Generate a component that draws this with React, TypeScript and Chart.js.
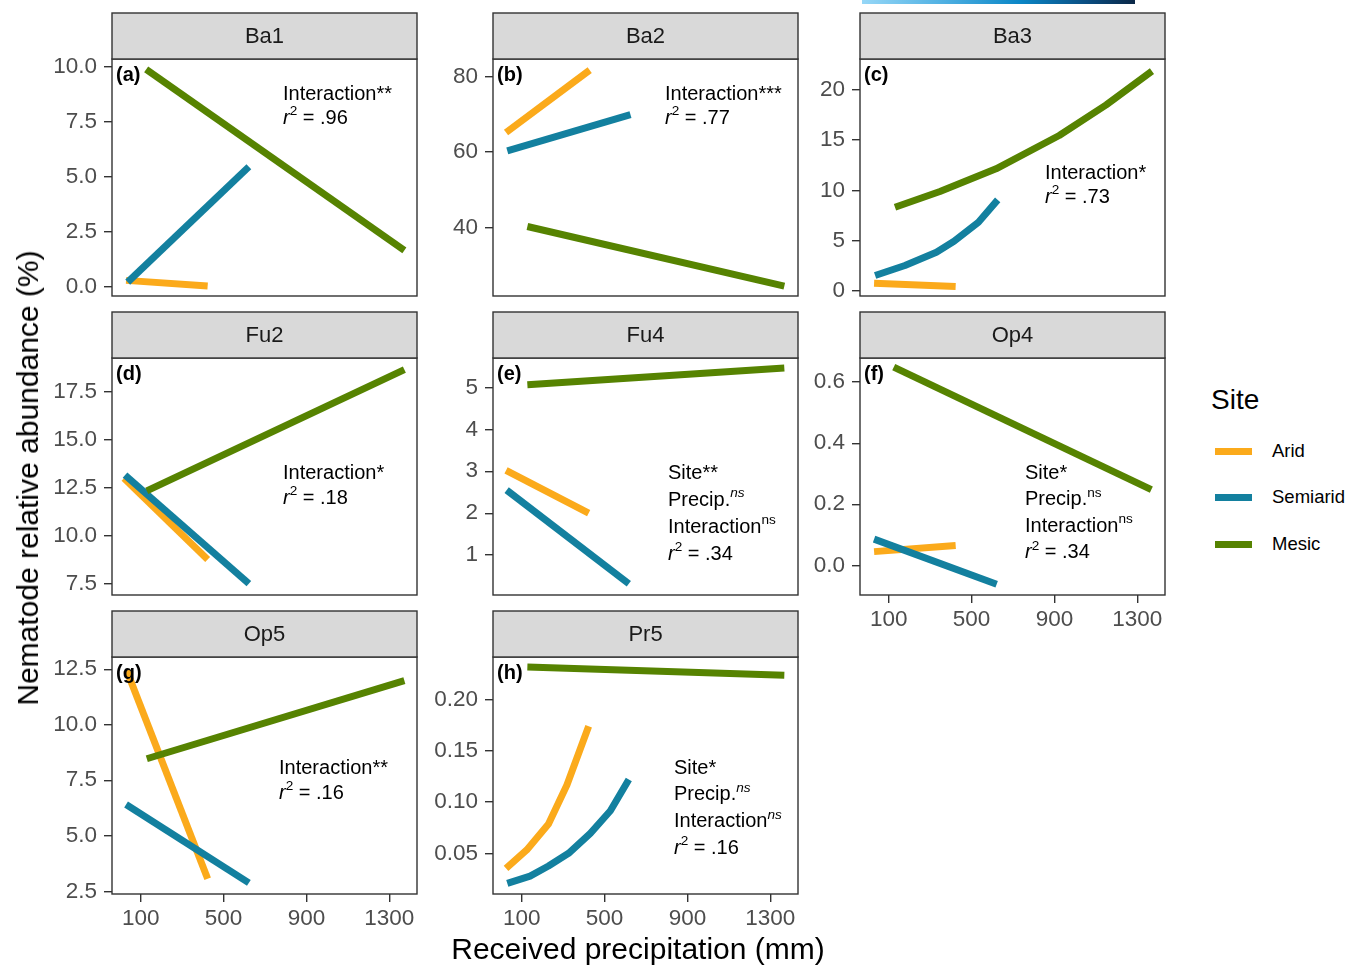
import React, { useEffect, useRef } from "react";
import { Chart, registerables } from "chart.js";
Chart.register(...registerables);

const FONT = "'Liberation Sans', Arial, Helvetica, sans-serif";

const siteNames = ["Arid", "Semiarid", "Mesic"];
const siteColors = ["#FBAA1B", "#13809F", "#568301"];

const panelNames = ["Ba1", "Ba2", "Ba3", "Fu2", "Fu4", "Op4", "Op5", "Pr5"];
const panelTags = ["(a)", "(b)", "(c)", "(d)", "(e)", "(f)", "(g)", "(h)"];

const xTicks = [100, 500, 900, 1300];
const xLimits = [-39, 1434];

// ---- series: [precipitation (mm), relative abundance (%)] ----
const ba1Arid = [[29, 0.31], [423, 0.05]];
const ba1Semiarid = [[37, 0.23], [622, 5.47]];
const ba1Mesic = [[126, 9.9], [1373, 1.67]];

const ba2Arid = [[24, 65.2], [428, 81.7]];
const ba2Semiarid = [[30, 60.3], [625, 69.9]];
const ba2Mesic = [[127, 40.3], [1368, 24.5]];

const ba3Arid = [[29, 0.79], [423, 0.46]];
const ba3Semiarid = [[34, 1.56], [178, 2.55], [330, 3.87], [415, 4.95], [533, 6.85], [626, 9.07]];
const ba3Mesic = [[130, 8.34], [347, 9.9], [618, 12.15], [923, 15.46], [1150, 18.5], [1371, 21.85]];

const fu2Arid = [[19, 13.0], [423, 8.76]];
const fu2Semiarid = [[24, 13.16], [622, 7.5]];
const fu2Mesic = [[129, 12.34], [1373, 18.67]];

const fu4Arid = [[24, 3.02], [423, 2.0]];
const fu4Semiarid = [[27, 2.55], [617, 0.32]];
const fu4Mesic = [[127, 5.06], [1368, 5.46]];

const op4Arid = [[29, 0.045], [423, 0.065]];
const op4Semiarid = [[29, 0.086], [621, -0.062]];
const op4Mesic = [[124, 0.649], [1368, 0.248]];

const op5Arid = [[32, 12.44], [423, 3.07]];
const op5Semiarid = [[29, 6.41], [622, 2.88]];
const op5Mesic = [[129, 8.47], [1373, 11.99]];

const pr5Arid = [[24, 0.0354], [124, 0.0533], [229, 0.0786], [318, 0.1167], [423, 0.174]];
const pr5Semiarid = [[30, 0.0207], [140, 0.0278], [229, 0.0376], [326, 0.05], [431, 0.0695], [528, 0.0915], [617, 0.122]];
const pr5Mesic = [[127, 0.2318], [1368, 0.2237]];

// ---- y axes ----
const ba1Ticks = [0, 2.5, 5, 7.5, 10];
const ba1Labels = ["0.0", "2.5", "5.0", "7.5", "10.0"];
const ba1Limits = [-0.4, 10.37];
const ba2Ticks = [40, 60, 80];
const ba2Labels = ["40", "60", "80"];
const ba2Limits = [21.9, 84.65];
const ba3Ticks = [0, 5, 10, 15, 20];
const ba3Labels = ["0", "5", "10", "15", "20"];
const ba3Limits = [-0.48, 23.06];
const fu2Ticks = [7.5, 10, 12.5, 15, 17.5];
const fu2Labels = ["7.5", "10.0", "12.5", "15.0", "17.5"];
const fu2Limits = [6.9, 19.28];
const fu4Ticks = [1, 2, 3, 4, 5];
const fu4Labels = ["1", "2", "3", "4", "5"];
const fu4Limits = [0.05, 5.7];
const op4Ticks = [0, 0.2, 0.4, 0.6];
const op4Labels = ["0.0", "0.2", "0.4", "0.6"];
const op4Limits = [-0.097, 0.679];
const op5Ticks = [2.5, 5, 7.5, 10, 12.5];
const op5Labels = ["2.5", "5.0", "7.5", "10.0", "12.5"];
const op5Limits = [2.38, 13.05];
const pr5Ticks = [0.05, 0.1, 0.15, 0.2];
const pr5Labels = ["0.05", "0.10", "0.15", "0.20"];
const pr5Limits = [0.0103, 0.2415];

// ---- statistics text ----
type Seg = { t: string; it?: boolean; sup?: boolean };
const r2 = (v: string): Seg[] => [{ t: "r", it: true }, { t: "2", sup: true }, { t: " = " + v }];
const ba1Notes: Seg[][] = [[{ t: "Interaction**" }], r2(".96")];
const ba2Notes: Seg[][] = [[{ t: "Interaction***" }], r2(".77")];
const ba3Notes: Seg[][] = [[{ t: "Interaction*" }], r2(".73")];
const fu2Notes: Seg[][] = [[{ t: "Interaction*" }], r2(".18")];
const fu4Notes: Seg[][] = [
  [{ t: "Site**" }],
  [{ t: "Precip." }, { t: "ns", sup: true, it: true }],
  [{ t: "Interaction" }, { t: "ns", sup: true }],
  r2(".34"),
];
const op4Notes: Seg[][] = [
  [{ t: "Site*" }],
  [{ t: "Precip." }, { t: "ns", sup: true }],
  [{ t: "Interaction" }, { t: "ns", sup: true }],
  r2(".34"),
];
const op5Notes: Seg[][] = [[{ t: "Interaction**" }], r2(".16")];
const pr5Notes: Seg[][] = [
  [{ t: "Site*" }],
  [{ t: "Precip." }, { t: "ns", sup: true, it: true }],
  [{ t: "Interaction" }, { t: "ns", sup: true, it: true }],
  r2(".16"),
];

// ---- layout ----
const COL_LEFT = [112, 493, 860];
const ROW_TOP = [13, 312, 611];
const PW = 304;
const SH = 46;
const PH = 237;
const YW = 90;
const XH = 48;

type PanelDef = {
  idx: number;
  col: number;
  row: number;
  showX: boolean;
  series: number[][][];
  ticks: number[];
  labels: string[];
  limits: number[];
  notes: Seg[][];
  noteX: number;
  noteY: number;
  noteGap: number;
};

const panels: PanelDef[] = [
  { idx: 0, col: 0, row: 0, showX: false, series: [ba1Arid, ba1Semiarid, ba1Mesic], ticks: ba1Ticks, labels: ba1Labels, limits: ba1Limits, notes: ba1Notes, noteX: 171, noteY: 35, noteGap: 24 },
  { idx: 1, col: 1, row: 0, showX: false, series: [ba2Arid, ba2Semiarid, ba2Mesic], ticks: ba2Ticks, labels: ba2Labels, limits: ba2Limits, notes: ba2Notes, noteX: 172, noteY: 35, noteGap: 24 },
  { idx: 2, col: 2, row: 0, showX: false, series: [ba3Arid, ba3Semiarid, ba3Mesic], ticks: ba3Ticks, labels: ba3Labels, limits: ba3Limits, notes: ba3Notes, noteX: 185, noteY: 114, noteGap: 24 },
  { idx: 3, col: 0, row: 1, showX: false, series: [fu2Arid, fu2Semiarid, fu2Mesic], ticks: fu2Ticks, labels: fu2Labels, limits: fu2Limits, notes: fu2Notes, noteX: 171, noteY: 115, noteGap: 25 },
  { idx: 4, col: 1, row: 1, showX: false, series: [fu4Arid, fu4Semiarid, fu4Mesic], ticks: fu4Ticks, labels: fu4Labels, limits: fu4Limits, notes: fu4Notes, noteX: 175, noteY: 115, noteGap: 27 },
  { idx: 5, col: 2, row: 1, showX: true, series: [op4Arid, op4Semiarid, op4Mesic], ticks: op4Ticks, labels: op4Labels, limits: op4Limits, notes: op4Notes, noteX: 165, noteY: 115, noteGap: 26.5 },
  { idx: 6, col: 0, row: 2, showX: true, series: [op5Arid, op5Semiarid, op5Mesic], ticks: op5Ticks, labels: op5Labels, limits: op5Limits, notes: op5Notes, noteX: 167, noteY: 111, noteGap: 25 },
  { idx: 7, col: 1, row: 2, showX: true, series: [pr5Arid, pr5Semiarid, pr5Mesic], ticks: pr5Ticks, labels: pr5Labels, limits: pr5Limits, notes: pr5Notes, noteX: 181, noteY: 111, noteGap: 26.7 },
];

function drawRich(ctx: CanvasRenderingContext2D, x: number, y: number, segs: Seg[], size: number) {
  let cx = x;
  for (const s of segs) {
    const fs = s.sup ? size * 0.68 : size;
    ctx.font = `${s.it ? "italic " : ""}${fs}px ${FONT}`;
    const yy = s.sup ? y - size * 0.33 : y;
    ctx.fillText(s.t, cx, yy);
    cx += ctx.measureText(s.t).width;
  }
}

function Panel({ p }: { p: PanelDef }) {
  const ref = useRef<HTMLCanvasElement | null>(null);
  const width = YW + PW + 2;
  const height = 1 + SH + PH + (p.showX ? XH : 1);
  useEffect(() => {
    if (!ref.current) return;
    const order = [2, 1, 0];
    const datasets = order.map((s) => ({
      label: siteNames[s],
      data: p.series[s].map((pt) => ({ x: pt[0], y: pt[1] })),
      borderColor: siteColors[s],
      backgroundColor: siteColors[s],
      borderWidth: 7,
      pointRadius: 0,
      pointHoverRadius: 0,
      tension: 0,
      fill: false,
      borderCapStyle: "butt" as const,
      borderJoinStyle: "round" as const,
    }));
    const facetPlugin = {
      id: "facet",
      afterDatasetsDraw(chart: any) {
        const ctx = chart.ctx as CanvasRenderingContext2D;
        const a = chart.chartArea;
        ctx.save();
        ctx.strokeStyle = "#333333";
        ctx.lineWidth = 1.4;
        ctx.strokeRect(a.left, a.top, a.right - a.left, a.bottom - a.top);
        ctx.fillStyle = "#D9D9D9";
        ctx.fillRect(a.left, a.top - SH, a.right - a.left, SH);
        ctx.strokeRect(a.left, a.top - SH, a.right - a.left, SH);
        ctx.fillStyle = "#1A1A1A";
        ctx.font = `22px ${FONT}`;
        ctx.textAlign = "center";
        ctx.textBaseline = "middle";
        ctx.fillText(panelNames[p.idx], (a.left + a.right) / 2, a.top - SH / 2 + 1);
        ctx.textAlign = "left";
        ctx.fillStyle = "#000000";
        ctx.font = `bold 20px ${FONT}`;
        ctx.fillText(panelTags[p.idx], a.left + 4, a.top + 16);
        p.notes.forEach((line, i) => {
          drawRich(ctx, a.left + p.noteX, a.top + p.noteY + i * p.noteGap, line, 20);
        });
        ctx.restore();
      },
    };
    const gridOpts = {
      display: true,
      drawOnChartArea: false,
      drawTicks: true,
      tickLength: 8,
      color: "#333333",
      lineWidth: 1.4,
    };
    const chart = new Chart(ref.current, {
      type: "line",
      data: { datasets },
      options: {
        animation: false,
        responsive: false,
        events: [],
        layout: {
          autoPadding: false,
          padding: { top: SH + 1, right: 1, bottom: p.showX ? 0 : 1, left: 0 },
        },
        plugins: { legend: { display: false }, tooltip: { enabled: false } },
        scales: {
          x: {
            type: "linear",
            min: xLimits[0],
            max: xLimits[1],
            display: p.showX,
            afterBuildTicks: (s: any) => {
              s.ticks = xTicks.map((v) => ({ value: v }));
            },
            afterFit: (s: any) => {
              s.height = p.showX ? XH : 0;
              s.paddingLeft = 0;
              s.paddingRight = 0;
              s.paddingTop = 0;
              s.paddingBottom = 0;
            },
            grid: gridOpts,
            border: { display: false },
            ticks: {
              autoSkip: false,
              maxRotation: 0,
              padding: 3,
              color: "#4D4D4D",
              font: { family: FONT, size: 22.5 },
              callback: (v: any) => String(v),
            },
          },
          y: {
            type: "linear",
            min: p.limits[0],
            max: p.limits[1],
            afterBuildTicks: (s: any) => {
              s.ticks = p.ticks.map((v) => ({ value: v }));
            },
            afterFit: (s: any) => {
              s.width = YW;
              s.paddingLeft = 0;
              s.paddingRight = 0;
              s.paddingTop = 0;
              s.paddingBottom = 0;
            },
            grid: gridOpts,
            border: { display: false },
            ticks: {
              autoSkip: false,
              padding: 7,
              color: "#4D4D4D",
              font: { family: FONT, size: 22.5 },
              callback: (_v: any, i: number) => p.labels[i],
            },
          },
        },
      } as any,
      plugins: [facetPlugin],
    });
    return () => chart.destroy();
  }, []);
  return (
    <canvas
      ref={ref}
      width={width}
      height={height}
      style={{
        position: "absolute",
        left: COL_LEFT[p.col] - YW,
        top: ROW_TOP[p.row] - 1,
        width,
        height,
      }}
    />
  );
}

const legendY = [451, 497, 544];

export default function App() {
  return (
    <div
      style={{
        position: "absolute",
        left: 0,
        top: 0,
        width: 1348,
        height: 965,
        background: "#ffffff",
        fontFamily: FONT,
        overflow: "hidden",
      }}
    >
      <div
        style={{
          position: "absolute",
          left: 862,
          top: 0,
          width: 273,
          height: 4,
          background: "linear-gradient(to right, #96D7F7, #4FB0E2 30%, #0A86C6 58%, #0A4E82 82%, #0B2746)",
        }}
      />
      {panels.map((p) => (
        <Panel key={p.idx} p={p} />
      ))}
      <div
        style={{
          position: "absolute",
          left: 28,
          top: 478,
          transform: "translate(-50%, -50%) rotate(-90deg)",
          whiteSpace: "nowrap",
          fontSize: 30,
          color: "#000",
          lineHeight: 1,
        }}
      >
        Nematode relative abundance (%)
      </div>
      <div
        style={{
          position: "absolute",
          left: 638,
          top: 949,
          transform: "translate(-50%, -50%)",
          whiteSpace: "nowrap",
          fontSize: 30,
          color: "#000",
          lineHeight: 1,
        }}
      >
        Received precipitation (mm)
      </div>
      <div
        style={{
          position: "absolute",
          left: 1211,
          top: 400,
          transform: "translateY(-50%)",
          fontSize: 28,
          color: "#000",
          lineHeight: 1,
        }}
      >
        Site
      </div>
      {siteNames.map((s, i) => (
        <React.Fragment key={s}>
          <div
            style={{
              position: "absolute",
              left: 1215,
              top: legendY[i] - 3.5,
              width: 37,
              height: 7,
              background: siteColors[i],
            }}
          />
          <div
            style={{
              position: "absolute",
              left: 1272,
              top: legendY[i],
              transform: "translateY(-50%)",
              fontSize: 18.5,
              color: "#000",
              lineHeight: 1,
              whiteSpace: "nowrap",
            }}
          >
            {s}
          </div>
        </React.Fragment>
      ))}
    </div>
  );
}
